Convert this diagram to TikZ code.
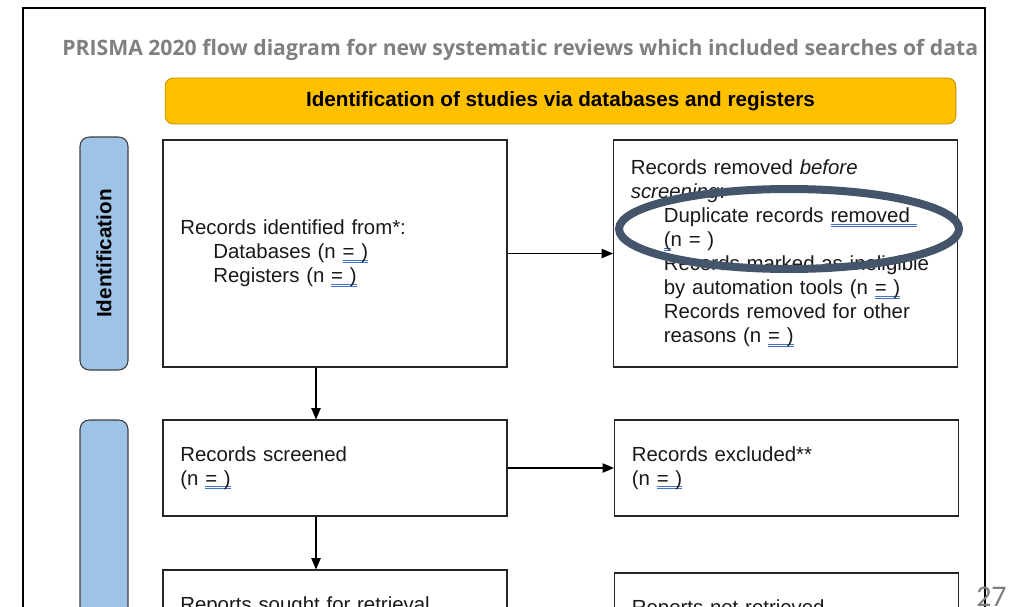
\documentclass[tikz,border=0pt]{standalone}
\usepackage{fontspec}
\setmainfont{Liberation Sans}
\newfontfamily\titlefont{Open Sans}
\newfontfamily\slidefont{Carlito}
\usetikzlibrary{arrows.meta}

\definecolor{hdyellow}{HTML}{FFC000}
\definecolor{hdborder}{HTML}{BF9000}
\definecolor{sideblue}{HTML}{9DC3E6}
\definecolor{ringslate}{HTML}{44546A}
\definecolor{chkblue}{HTML}{4472C4}
\definecolor{titlegray}{HTML}{808080}

% double blue spell-check underline
\newsavebox\chkbox
\newcommand\chk[1]{\sbox\chkbox{#1}%
  \rlap{\color{chkblue}\rule[-1.4pt]{\wd\chkbox}{0.5pt}}%
  \rlap{\color{chkblue}\rule[-2.8pt]{\wd\chkbox}{0.5pt}}\usebox\chkbox}
\newcommand\ind{\hspace*{24.75pt}}

\begin{document}
\begin{tikzpicture}[
    x=0.75pt, y=-0.75pt,
    box/.style={draw=black!85, line width=0.8pt, text width=232pt,
                inner xsep=13pt, inner ysep=0pt, align=left, text=black!90,
                font=\fontsize{15.3}{18}\selectfont},
    side/.style={draw=black!75, line width=0.8pt, fill=sideblue,
                 rounded corners=7pt, minimum width=36pt},
    arr/.style={line width=0.9pt, -{Triangle[length=8.5pt,width=7pt]}}
  ]
  \useasboundingbox (0,0) rectangle (1012,606);
  \clip (0,0) rectangle (1012,606);
  \fill[white] (0,0) rectangle (1012,606);

  % slide frame and title
  \draw[line width=1.5pt] (23,8) rectangle (985,640);
  \node[anchor=west, inner sep=0pt, text=titlegray,
        font=\titlefont\bfseries\fontsize{15.9}{18}\selectfont] (title) at (62,50)
    {PRISMA 2020 flow diagram for new systematic reviews which included searches of data};

  \node[draw=hdborder, line width=0.6pt, fill=hdyellow, rounded corners=6pt,
        minimum width=593pt, minimum height=34.5pt,
        font=\bfseries\fontsize{15.5}{18}\selectfont] (head) at (560.5,101)
    {Identification of studies via databases and registers};

  \node[side, minimum height=174.75pt] (ident) at (104,253.5) {};
  \node[rotate=90, font=\bfseries\fontsize{15.5}{18}\selectfont] (identlbl) at (ident.center) {Identification};
  \node[side, minimum height=210pt] (screen) at (104,560) {};

  \node[box, minimum height=170.25pt] (rec) at (335,253.5)
    {Records identified from*:\\
     \ind Databases (n \chk{= )}\\
     \ind Registers (n \chk{= )}};
  \node[box, minimum height=170.25pt] (rem) at (785.5,253.5)
    {Records removed \textit{before}\\
     \textit{screening}:\\
     \ind Duplicate records \chk{removed\ }\\
     \ind \chk{(}n = )\\
     \ind Records marked as ineligible\\
     \ind by automation tools (n \chk{= )}\\
     \ind Records removed for other\\
     \ind reasons (n \chk{= )}};

  \node[box, minimum height=72pt] (scr) at (335,468)
    {Records screened\\(n \chk{= )}};
  \node[box, minimum height=72pt] (exc) at (786.5,468)
    {Records excluded**\\(n \chk{= )}};

  \node[box, minimum height=72pt] (sought) at (335,618)
    {Reports sought for retrieval\\(n \chk{= )}};
  \node[box, minimum height=72pt] (notret) at (786.5,621)
    {Reports not retrieved\\(n \chk{= )}};

  \coordinate (down) at (316,0);
  \draw[arr] (rec.east) -- (rem.west);
  \draw[arr] (down |- rec.south) -- (down |- scr.north);
  \draw[arr] (scr.east) -- (exc.west);
  \draw[arr] (down |- scr.south) -- (down |- sought.north);

  % highlight ring
  \draw[ringslate, line width=6pt] (789,229) ellipse [x radius=170, y radius=40];

  \node[anchor=base west, inner sep=0pt, text=titlegray,
        font=\slidefont\fontsize{22.5}{24}\selectfont] (pgno) at (976,606) {27};
\end{tikzpicture}
\end{document}
